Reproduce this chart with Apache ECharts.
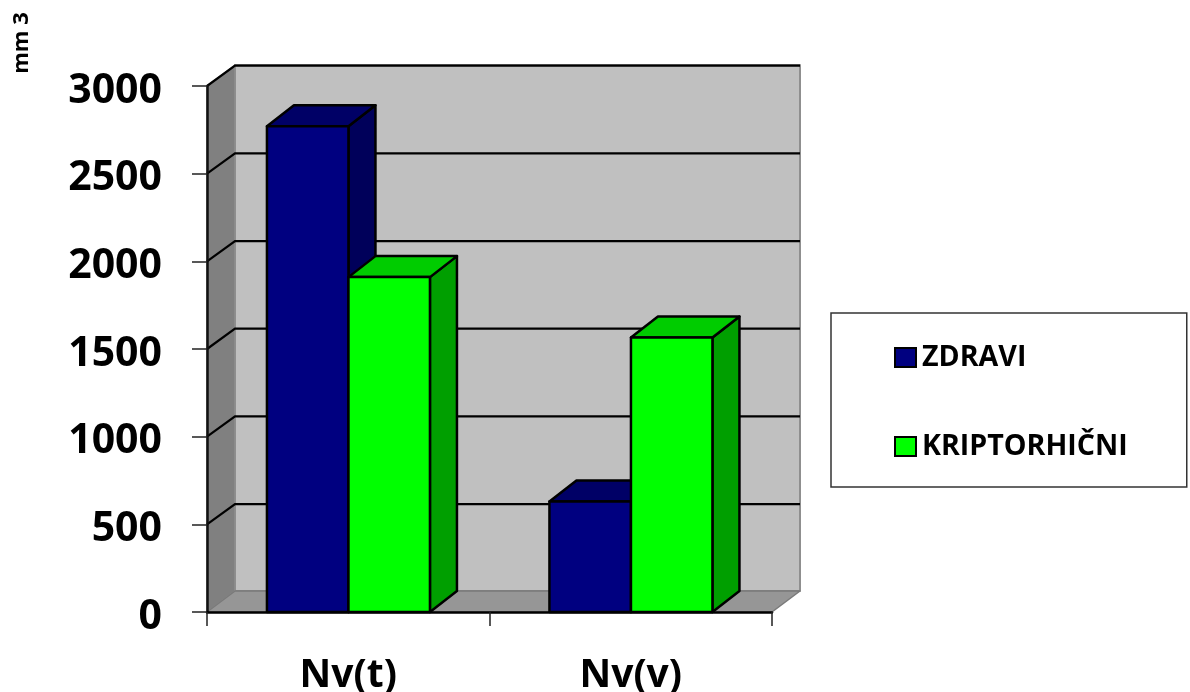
<!DOCTYPE html>
<html><head><meta charset="utf-8">
<style>html,body{margin:0;padding:0;background:#fff}#c{width:1190px;height:692px}</style>
<script src="https://cdn.jsdelivr.net/npm/echarts@6/dist/echarts.min.js"></script>
</head><body><div id="c"></div>
<script>
const categories = ['Nv(t)', 'Nv(v)'];
const zdravi = [2770, 630];
const kriptorhicni = [1910, 1565];
const yTicks = [500, 1000, 1500, 2000, 2500, 3000];
const seriesNames = ['ZDRAVI', 'KRIPTORHIČNI'];

const DX = 28, DY = -21, GRID_DY = -20.3, BAR_DX = 27, BAR_FRAC = 0.2885;
const FONT = '"Open Sans", sans-serif';
const chart = echarts.init(document.getElementById('c'));

function poly(points, fill, stroke, lw) {
  return { type: 'polygon', shape: { points }, style: { fill, stroke, lineWidth: lw || 2.5, lineJoin: 'round' } };
}
function wallsItem(params, api) {
  const cs = params.coordSys;
  const l = cs.x, r = cs.x + cs.width, t = cs.y, b = cs.y + cs.height;
  return { type: 'group', children: [
    poly([[l + DX, t + DY], [r + DX, t + DY], [r + DX, b + DY], [l + DX, b + DY]], '#c0c0c0', '#8f8f8f', 2),
    poly([[l, t], [l + DX, t + DY], [l + DX, b + DY], [l, b]], '#808080', '#8f8f8f', 1.5),
    poly([[l, b], [l + DX, b + DY], [r + DX, b + DY], [r, b]], '#969696', '#7a7a7a', 1.5)
  ]};
}
function gridItem(params, api) {
  const cs = params.coordSys;
  const y = api.coord([0, api.value(0)])[1], l = cs.x, r = cs.x + cs.width;
  return { type: 'polyline', shape: { points: [[l, y], [l + DX, y + GRID_DY], [r + DX, y + GRID_DY]] },
    style: { fill: 'none', stroke: '#000', lineWidth: 2.2 } };
}
function barItem(idx, front, top, side) {
  return function (params, api) {
    const cat = api.value(0), val = api.value(1);
    const c = api.coord([cat, val]), base = api.coord([cat, 0]);
    const w = api.size([1, 0])[0] * BAR_FRAC;
    const x0 = c[0] + (idx === 0 ? -w : 0) + 0.2, x1 = x0 + w;
    const y0 = c[1], y1 = base[1];
    return { type: 'group', children: [
      poly([[x1, y0], [x1 + BAR_DX, y0 + DY], [x1 + BAR_DX, y1 + DY], [x1, y1]], side, '#000'),
      poly([[x0, y0], [x0 + BAR_DX, y0 + DY], [x1 + BAR_DX, y0 + DY], [x1, y0]], top, '#000'),
      poly([[x0, y0], [x1, y0], [x1, y1], [x0, y1]], front, '#000')
    ]};
  };
}
chart.setOption({
  animation: false,
  backgroundColor: '#fff',
  grid: { left: 207, top: 86, width: 565, height: 526, containLabel: false, outerBoundsMode: 'none' },
  xAxis: {
    type: 'category', data: categories, z: 10,
    axisLine: { lineStyle: { color: '#000', width: 2.5 } },
    axisTick: { show: true, alignWithLabel: false, length: 14, lineStyle: { color: '#222', width: 1.5 } },
    axisLabel: { margin: 44, color: '#000', fontFamily: FONT, fontWeight: 'bold', fontSize: 39 }
  },
  yAxis: {
    type: 'value', min: 0, max: 3000, interval: 500, z: 10,
    axisLine: { show: true, lineStyle: { color: '#111', width: 2.5 } },
    axisTick: { show: true, length: 15, lineStyle: { color: '#222', width: 1.5 } },
    splitLine: { show: false },
    axisLabel: { margin: 45, color: '#000', fontFamily: FONT, fontWeight: 'bold', fontSize: 41,
      formatter: v => String(v), verticalAlign: 'top', lineHeight: 10 }
  },
  legend: {
    orient: 'vertical', left: 831, top: 313,
    data: seriesNames,
    icon: 'rect', itemWidth: 21, itemHeight: 19, itemGap: 60,
    padding: [30, 59, 26, 63],
    borderColor: '#333', borderWidth: 1.5, backgroundColor: '#fff',
    textStyle: { color: '#000', fontFamily: FONT, fontWeight: 'bold', fontSize: 28.6, padding: [0, 0, 0, 1], verticalAlign: 'top', lineHeight: 6 },
    selectedMode: false
  },
  graphic: [{
    type: 'text', x: 22, y: 43, rotation: Math.PI / 2, z: 20,
    style: { text: 'mm 3', fontFamily: FONT, fontWeight: 'bold', fontSize: 22, fill: '#000', align: 'center', verticalAlign: 'middle' }
  }],
  series: [
    { type: 'custom', name: 'walls', silent: true, z: 1, data: [[0]], renderItem: wallsItem, tooltip: { show: false } },
    { type: 'custom', name: 'grid', silent: true, z: 2, data: yTicks.map(v => [v]), encode: { y: 0 }, renderItem: gridItem },
    { type: 'custom', name: seriesNames[0], z: 3, data: zdravi.map((v, i) => [i, v]),
      itemStyle: { color: '#000080', borderColor: '#000', borderWidth: 2 },
      renderItem: barItem(0, '#000080', '#000066', '#00005a') },
    { type: 'custom', name: seriesNames[1], z: 4, data: kriptorhicni.map((v, i) => [i, v]),
      itemStyle: { color: '#00ff00', borderColor: '#000', borderWidth: 2 },
      renderItem: barItem(1, '#00ff00', '#00cc00', '#009f00') }
  ]
});
</script></body></html>
